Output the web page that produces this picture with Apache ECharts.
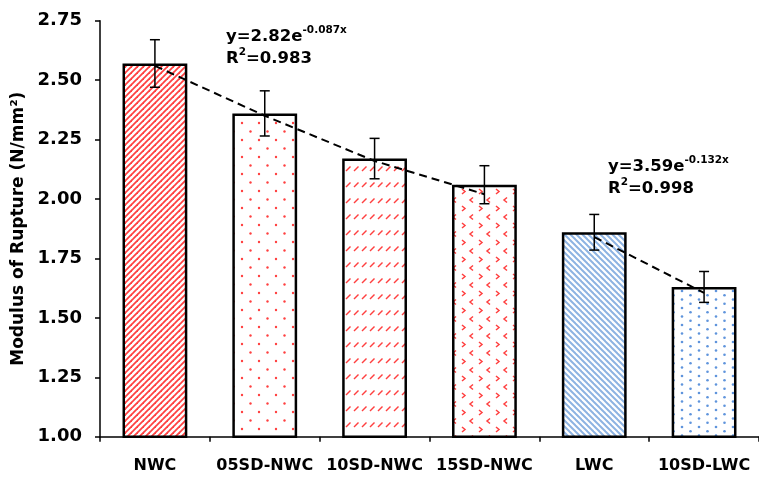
<!DOCTYPE html>
<html><head><meta charset="utf-8">
<script src="https://cdn.jsdelivr.net/npm/echarts@6/dist/echarts.min.js"></script>
<style>html,body{margin:0;padding:0;background:#fff}#c{width:759px;height:478px}</style>
</head><body><div id="c"></div>
<script>
// ---- data ----
const categories = ['NWC', '05SD-NWC', '10SD-NWC', '15SD-NWC', 'LWC', '10SD-LWC'];
const modulusValues = [2.57, 2.36, 2.17, 2.06, 1.86, 1.63];
const errorValues = [0.10, 0.095, 0.085, 0.08, 0.075, 0.065];
const trendNWC = [2.56, 2.35, 2.16, 2.02, null, null];
const trendLWC = [null, null, null, null, 1.84, 1.605];
const yMin = 1.00, yMax = 2.75, yStep = 0.25;
const yAxisTitle = 'Modulus of Rupture (N/mm²)';
const eq1Line1 = ['y=2.82e', '-0.087x'];
const eq1Line2 = ['R', '2', '=0.983'];
const eq2Line1 = ['y=3.59e', '-0.132x'];
const eq2Line2 = ['R', '2', '=0.998'];

// ---- patterns (style only) ----
function tile(w, h, draw) {
  const c = document.createElement('canvas');
  c.width = w; c.height = h;
  const g = c.getContext('2d');
  g.fillStyle = '#ffffff'; g.fillRect(0, 0, w, h);
  draw(g);
  return c;
}
const RED = '#ff4040', BLUE = '#8db3e2', BLUE_DOT = '#5f94dc';
const pUp = tile(6, 6, g => {
  g.strokeStyle = RED; g.lineWidth = 1.8;
  [0, 6, 12].forEach(c => { g.beginPath(); g.moveTo(-1, c + 1); g.lineTo(c + 1, -1); g.stroke(); });
});
const pDots = tile(17, 17, g => {
  g.fillStyle = RED;
  [[4, 4], [12.5, 12.5]].forEach(p => { g.beginPath(); g.arc(p[0], p[1], 1.2, 0, Math.PI * 2); g.fill(); });
});
const pDash = tile(8, 16, g => {
  g.strokeStyle = RED; g.lineWidth = 1.5;
  g.beginPath(); g.moveTo(2, 11); g.lineTo(6.5, 6.5); g.stroke();
});
const pDivot = tile(17, 17, g => {
  g.strokeStyle = RED; g.lineWidth = 1.5;
  g.beginPath(); g.moveTo(3, 2); g.lineTo(6, 4.5); g.lineTo(3, 7); g.stroke();
  g.beginPath(); g.moveTo(14, 10.5); g.lineTo(11, 13); g.lineTo(14, 15.5); g.stroke();
});
const pDown = tile(6, 6, g => {
  g.strokeStyle = BLUE; g.lineWidth = 2;
  [-6, 0, 6].forEach(c => { g.beginPath(); g.moveTo(c - 1, -1); g.lineTo(c + 7, 7); g.stroke(); });
});
const pBlueDots = tile(17, 17, g => {
  g.fillStyle = BLUE_DOT;
  [[2, 2], [10.5, 6.25], [2, 10.5], [10.5, 14.75]].forEach(p => { g.beginPath(); g.arc(p[0], p[1], 1.3, 0, Math.PI * 2); g.fill(); });
});
const patterns = [pUp, pDots, pDash, pDivot, pDown, pBlueDots];

const FONT = 'DejaVu Sans';
const chart = echarts.init(document.getElementById('c'), null, { renderer: 'canvas' });

function eqText(parts) {
  if (parts.length === 2) return '{a|' + parts[0] + '}{s|' + parts[1] + '}';
  return '{a|' + parts[0] + '}{s|' + parts[1] + '}{a|' + parts[2] + '}';
}
const richEq = {
  a: { fontFamily: FONT, fontWeight: 'bold', fontSize: 16.5, lineHeight: 20, verticalAlign: 'bottom', fill: '#000' },
  s: { fontFamily: FONT, fontWeight: 'bold', fontSize: 10.5, lineHeight: 12, verticalAlign: 'top', fill: '#000' }
};

chart.setOption({
  animation: false,
  backgroundColor: '#fff',
  grid: { left: 100, right: 0, top: 20.7, bottom: 41.3, containLabel: false, outerBoundsMode: 'none' },
  xAxis: {
    type: 'category',
    data: categories,
    axisLine: { show: true, lineStyle: { color: '#000', width: 1.5 } },
    axisTick: { show: true, length: 5, lineStyle: { color: '#000', width: 1.5 } },
    axisLabel: { interval: 0, margin: 21, color: '#000', fontFamily: FONT, fontWeight: 'bold', fontSize: 16 },
    splitLine: { show: false }
  },
  yAxis: {
    type: 'value',
    min: yMin, max: yMax, interval: yStep,
    name: yAxisTitle,
    nameLocation: 'middle',
    nameGap: 71,
    nameTextStyle: { color: '#000', fontFamily: FONT, fontWeight: 'bold', fontSize: 17 },
    axisLine: { show: true, lineStyle: { color: '#000', width: 1.5 } },
    axisTick: { show: true, length: 5, lineStyle: { color: '#000', width: 1.5 } },
    axisLabel: { margin: 18, color: '#000', fontFamily: FONT, fontWeight: 'bold', fontSize: 18, formatter: v => v.toFixed(2) },
    splitLine: { show: false }
  },
  series: [
    {
      type: 'bar',
      barWidth: '59%',
      data: modulusValues.map((v, i) => ({
        value: v,
        itemStyle: { color: { image: patterns[i], repeat: 'repeat' }, borderColor: '#000', borderWidth: 2.5 }
      })),
      z: 2
    },
    {
      type: 'custom',
      z: 3,
      data: modulusValues.map((v, i) => [i, v, errorValues[i]]),
      encode: { x: 0, y: 1 },
      renderItem: function (params, api) {
        const i = api.value(0), m = api.value(1), e = api.value(2);
        const top = api.coord([i, m + e]);
        const bot = api.coord([i, m - e]);
        const hw = 5;
        const st = { stroke: '#000', lineWidth: 1.5 };
        return {
          type: 'group',
          children: [
            { type: 'line', shape: { x1: top[0], y1: top[1], x2: bot[0], y2: bot[1] }, style: st },
            { type: 'line', shape: { x1: top[0] - hw, y1: top[1], x2: top[0] + hw, y2: top[1] }, style: st },
            { type: 'line', shape: { x1: bot[0] - hw, y1: bot[1], x2: bot[0] + hw, y2: bot[1] }, style: st }
          ]
        };
      }
    },
    {
      type: 'line', z: 4, data: trendNWC, symbol: 'none', connectNulls: false,
      lineStyle: { color: '#000', width: 2, type: [8, 5] }
    },
    {
      type: 'line', z: 4, data: trendLWC, symbol: 'none', connectNulls: false,
      lineStyle: { color: '#000', width: 2, type: [8, 5] }
    }
  ],
  graphic: [
    { type: 'text', left: 226, top: 25, z: 10, style: { text: eqText(eq1Line1), rich: richEq } },
    { type: 'text', left: 226, top: 47, z: 10, style: { text: eqText(eq1Line2), rich: richEq } },
    { type: 'text', left: 608, top: 155, z: 10, style: { text: eqText(eq2Line1), rich: richEq } },
    { type: 'text', left: 608, top: 177, z: 10, style: { text: eqText(eq2Line2), rich: richEq } }
  ]
});
</script>
</body></html>
